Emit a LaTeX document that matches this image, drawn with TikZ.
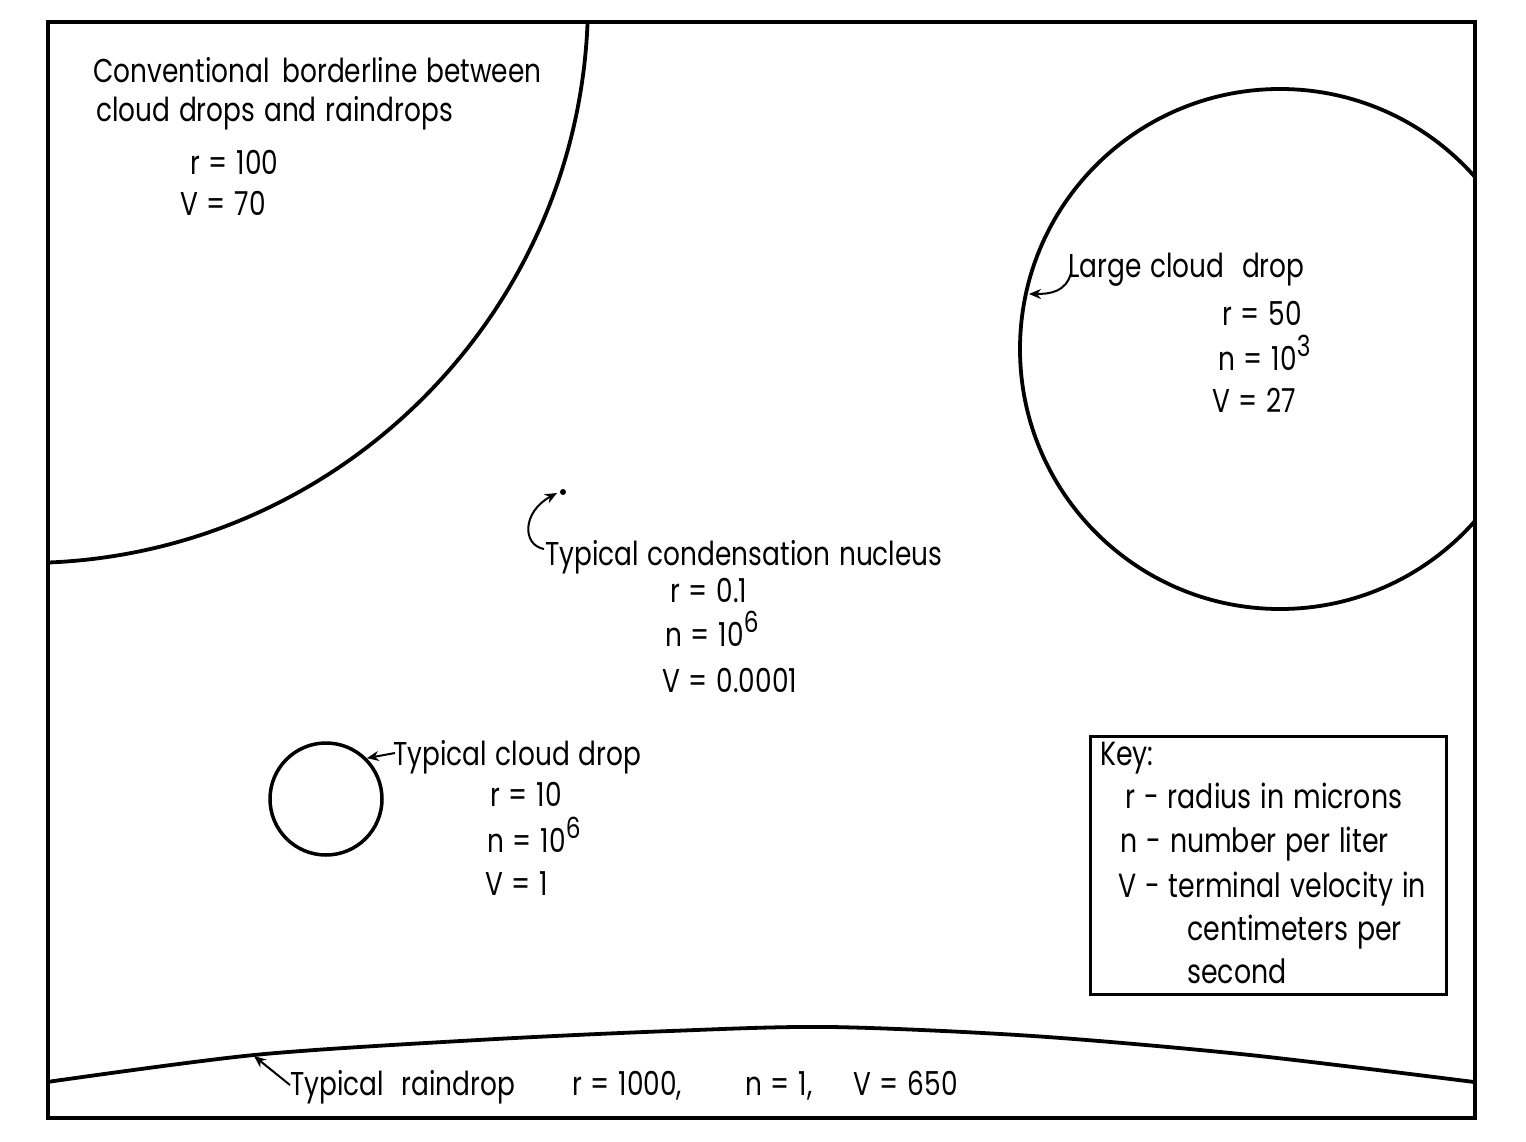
\documentclass[tikz,border=0pt]{standalone}
\usepackage{fontspec}
\setmainfont{Poppins}[FakeStretch=0.8, WordSpace=1.25]
\usetikzlibrary{arrows.meta}
\newcommand{\upnum}[1]{\raisebox{0.4em}{\fontsize{29}{29}\selectfont #1}}
\begin{document}
\begin{tikzpicture}[x=1pt,y=-1pt,
  lbl/.style={anchor=base west, inner sep=0pt, font=\fontsize{33}{40}\selectfont},
  keytxt/.style={anchor=base west, inner sep=0pt, font=\fontsize{33.5}{40}\selectfont},
  bold line/.style={line width=3.8pt},
  pointer/.style={line width=2pt, -{Stealth[length=12pt,width=10pt]}},
]
\useasboundingbox (0,0) rectangle (1526,1142);
\fill[white] (0,0) rectangle (1526,1142);
\coordinate (tl) at (48,22);
\coordinate (br) at (1475,1118);
% clipped drops
\begin{scope}
  \clip (tl) rectangle (br);
  \draw[bold line] (25,0) circle[radius=563pt];
  \draw[bold line] (1280,349) circle[radius=260pt];
  \draw[bold line] plot[smooth] coordinates {(40,1083) (254,1055) (478,1040) (670,1031) (830,1027) (1033,1036) (1250,1055) (1490,1084)};
\end{scope}
\draw[bold line] (tl) rectangle (br);
% typical cloud drop
\node[circle, draw, line width=3.5pt, minimum size=112pt, inner sep=0pt] (cdrop) at (326,799) {};
% condensation nucleus
\fill (563,492) circle[radius=3pt];
\coordinate (nuctip) at (557,493);
\coordinate (lcdtip) at (1029,294);
\coordinate (raintip) at (254,1056);

% borderline texts
\node[lbl] (conv1) at (93,83) {Conventional\hspace{4pt} borderline between};
\node[lbl] (conv2) at (96,122) {cloud drops and raindrops};
\node[lbl] (convr) at (190,175) {r = 100};
\node[lbl] (convv) at (180,215) {V = 70};

% large cloud drop
\node[lbl] (lcd) at (1068,277) {Large cloud\ \ drop};
\node[lbl] (lcdr) at (1222,325) {r = 50};
\node[lbl] (lcdn) at (1218,370) {n = 10\upnum{3}};
\node[lbl] (lcdv) at (1212,412) {V = 27};

% condensation nucleus
\node[lbl] (nuc) at (545,565) {Typical condensation nucleus};
\node[lbl] (nucr) at (670,602) {r = 0.1};
\node[lbl] (nucn) at (665,646) {n = 10\upnum{6}};
\node[lbl] (nucv) at (662,692) {V = 0.0001};

% cloud drop
\node[lbl] (cd) at (393,765) {Typical cloud drop};
\node[lbl] (cdr) at (490,806) {r = 10};
\node[lbl] (cdn) at (487,852) {n = 10\upnum{6}};
\node[lbl] (cdv) at (485,895) {V = 1};

% raindrop
\node[lbl] (rd) at (290,1095) {Typical\ \ raindrop};
\node[lbl] (rdr) at (572,1095) {r = 1000,};
\node[lbl] (rdn) at (745,1095) {n = 1,};
\node[lbl] (rdv) at (853,1095) {V = 650};

% key
\node[draw, line width=2.5pt, anchor=north west, minimum width=356pt, minimum height=258pt, inner sep=0pt] (key) at (1089,735) {};
\node[keytxt] (k0) at (1100,765) {Key:};
\node[keytxt] (k1) at (1125,808) {r - radius in microns};
\node[keytxt] (k2) at (1120,852) {n - number per liter};
\node[keytxt] (k3) at (1118,897) {V - terminal velocity in};
\node[keytxt] (k4) at (1187,940) {centimeters per};
\node[keytxt] (k5) at (1187,983) {second};

% pointers
\draw[pointer] (lcd.base west) ++(3,-4) .. controls (1066,292) and (1050,294) .. (lcdtip);
\draw[pointer] (nuc.base west) ++(-1,-16) .. controls (522,545) and (522,512) .. (nuctip);
\draw[pointer] (cd.base west) ++(2,-12) -- (cdrop.45);
\draw[pointer] (rd.base west) ++(0,-10) -- (raintip);
\end{tikzpicture}
\end{document}
